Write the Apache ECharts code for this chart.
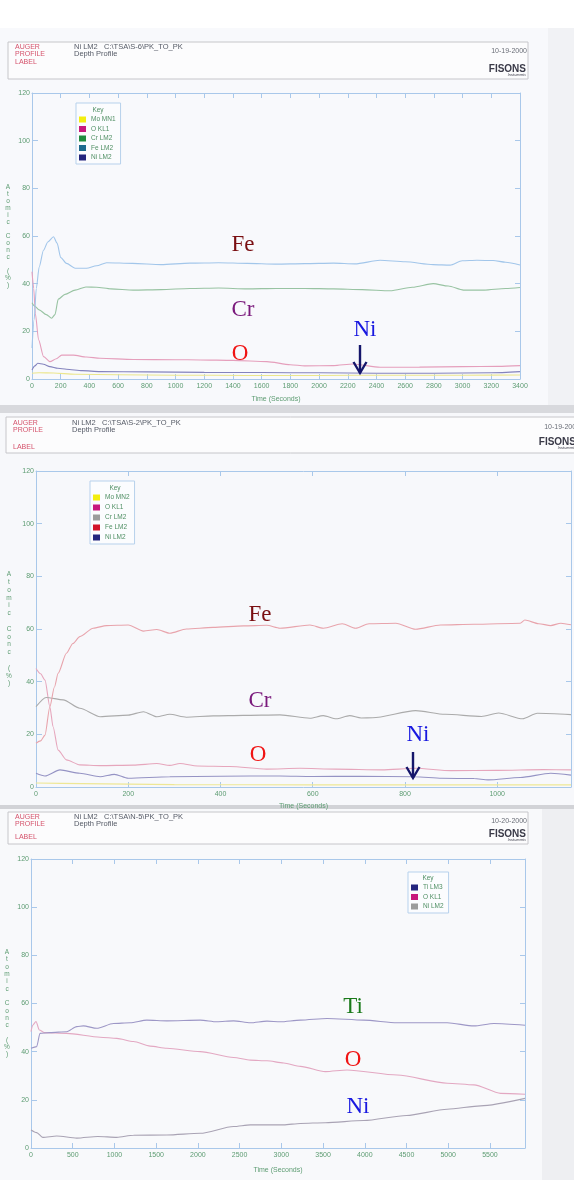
<!DOCTYPE html>
<html><head><meta charset="utf-8">
<script src="https://cdn.jsdelivr.net/npm/echarts@6/dist/echarts.min.js"></script>
<style>html,body{margin:0;padding:0;background:#fff}#c{width:574px;height:1180px}</style>
</head><body><div id="c"></div>
<script>
// ---------- DATA ----------
// Chart 1 : S-6  (time s, atomic conc %)
const c1XMax = 3400, c1XStep = 200;
const c1Fe = [[0,13],[15,25],[30,38],[50,47],[80,54],[110,57.5],[150,59.7],[175,57],[200,51],[240,48.5],[300,46.5],[380,46.5],[450,47.5],[520,48.8],[700,48.5],[900,48],[1100,48.6],[1300,48.8],[1500,48.5],[1700,48.2],[1900,48.4],[2100,48.6],[2250,48.3],[2425,49.8],[2600,49.2],[2795,48],[2913,47.8],[2997,49.6],[3100,49.8],[3213,49.7],[3300,49],[3400,47.8]];
const c1Cr = [[0,32],[20,30.5],[50,29],[100,27],[137,25.5],[160,27],[183,33.5],[230,35.5],[300,37.3],[376,38.6],[450,38.5],[550,37.8],[706,37.3],[900,37.5],[1100,38],[1300,38.2],[1500,37.8],[1700,38],[1900,38],[2100,37.8],[2300,37.5],[2495,37],[2650,38.5],[2795,40],[2900,39],[3006,37.3],[3150,37.3],[3300,38],[3400,38.4]];
const c1O  = [[0,45],[12,38],[23,27.6],[46,16.4],[81,9.4],[125,7.3],[170,8.5],[207,10],[288,10],[380,9.2],[474,8.7],[706,8.2],[1000,8.1],[1171,8],[1400,7.8],[1636,7.3],[1800,6],[1900,5.5],[2100,5.6],[2237,6.3],[2425,4.9],[2700,5],[3000,5.2],[3250,5.3],[3400,5.6]];
const c1Ni = [[0,3.8],[20,5.5],[40,6.6],[80,6.2],[125,5.2],[180,4.5],[240,4.1],[350,3.5],[474,3.1],[800,3],[1200,2.8],[1600,2.7],[2000,2.6],[2400,2.4],[2800,2.4],[3200,2.6],[3400,3.1]];
const c1Mo = [[0,2.4],[50,2.6],[150,2.5],[300,2],[600,1.8],[1000,1.6],[1500,1.5],[2000,1.5],[2500,1.6],[3000,1.6],[3400,1.7]];

// Chart 2 : S-2
const c2XMax = 1160, c2XStep = 200;
const c2Fe = [[0,16.6],[10,17.5],[19.5,19.7],[30,30.5],[40,38],[48,43.2],[66,50.8],[80,54.5],[95,57.1],[124,60.3],[153,61.3],[200,61.5],[233,59.2],[262,59.8],[290,58.4],[326,60],[384,60.6],[450,61.2],[500,61.4],[529,60.3],[594,61.5],[623,60.3],[664,62],[693,60.3],[722,62],[780,62.2],[823,59.9],[877,61.5],[950,61.8],[1050,62.2],[1060,63.4],[1090,62],[1116,61.3],[1138,62.2],[1160,61.6]];
const c2O  = [[0,45],[10,43],[19.5,40.6],[30,30.5],[37,22.9],[48,14],[66,10.3],[95,8.4],[139,8.1],[211,8.3],[262,8.9],[290,8.2],[312,8.9],[350,8],[420,7.8],[500,6.8],[572,7.1],[650,6.8],[750,6.5],[822,7.1],[900,6.2],[1000,6.3],[1100,6.6],[1160,6.5]];
const c2Cr = [[0,30.5],[22,34],[59,33.1],[95,29.9],[139,26.7],[200,27.3],[233,28.6],[262,26.7],[290,27.6],[326,26.5],[384,27],[450,27.2],[529,27.4],[594,26.1],[623,27.1],[651,25.9],[680,27.1],[705,26.2],[730,26.3],[823,29],[887,27.6],[966,26.8],[1003,28.1],[1055,25.9],[1087,28],[1160,27.5]];
const c2Ni = [[0,5.2],[19.5,4.2],[52,6.5],[95,5.2],[139,3.9],[170,4.8],[200,3.3],[290,3.9],[400,4.1],[529,4.2],[600,4],[700,4.1],[822,3.9],[880,3.3],[950,3.2],[980,2.7],[1050,3.6],[1116,5.2],[1160,4.5]];
const c2Mo = [[0,1.5],[100,1.3],[300,0.9],[600,0.8],[900,0.8],[1160,0.8]];

// Chart 3 : N-5
const c3XMax = 5920, c3XStep = 500;
const c3Ti = [[0,41.4],[68,42.1],[108,47.6],[228,47.9],[428,48.3],[548,50.4],[628,50.7],[788,49.7],[988,51.7],[1188,52],[1388,53.1],[1628,52.8],[2028,53.1],[2228,52.4],[2428,52.8],[2628,52],[2828,52.7],[2988,52.4],[3228,53.1],[3548,53.8],[3988,53.1],[4388,52],[4988,52],[5308,50.7],[5548,51.7],[5920,51]];
const c3O  = [[0,48.3],[20,51],[60,52.5],[100,49],[160,47.9],[428,47.6],[828,46],[1028,45.5],[1228,44.2],[1428,42.3],[1628,41.4],[2028,40],[2428,37.6],[2628,36.5],[2828,36.2],[3028,35.3],[3228,33.9],[3528,31.7],[3788,32.4],[4388,30.3],[4988,26.9],[5308,26.2],[5628,22.7],[5920,22.3]];
const c3Ni = [[0,7.5],[68,6.4],[140,4.4],[308,5],[548,4.1],[800,4.8],[1028,4.4],[1228,5.3],[1628,5.4],[2028,6.1],[2428,8.9],[2628,9.6],[3028,9.6],[3228,10.2],[3528,10.5],[3988,11.4],[4500,13.5],[4988,16.1],[5388,17.5],[5920,20.6]];

const yMax = 120, yStep = 20;
const keys1 = ['Mo MN1','O KL1','Cr LM2','Fe LM2','Ni LM2'];
const keys2 = ['Mo MN2','O KL1','Cr LM2','Fe LM2','Ni LM2'];
const keys3 = ['Ti LM3','O KL1','Ni LM2'];
const yName = 'Atomic Conc (%)';
const xName = 'Time (Seconds)';

// ---------- STYLE ----------
const AX = '#a9c8ea', LBL = '#5d9c72', SANS = 'Liberation Sans', SERIF = 'Liberation Serif';
const grids = [
  {left:32, top:93, width:488, height:286},
  {left:36, top:471, width:535, height:316},
  {left:31, top:859, width:494, height:289}
];
const xCfg = [[c1XMax,c1XStep,true,17],[c2XMax,c2XStep,false,16],[c3XMax,c3XStep,false,19]];
const yCfg = [[24,7],[27,7.8],[24,7.3]];
const plain = v => String(v);

const xAxis = [], yAxis = [];
xCfg.forEach(([max,step,showMax,gap],g)=>{
  xAxis.push({type:'value',gridIndex:g,min:0,max:max,interval:step,position:'bottom',
    name:xName,nameLocation:'middle',nameGap:gap,nameTextStyle:{color:LBL,fontSize:7,fontFamily:SANS},
    axisLine:{show:true,onZero:false,lineStyle:{color:AX,width:1}},
    axisTick:{show:true,inside:true,length:5,lineStyle:{color:AX}},
    axisLabel:{color:LBL,fontSize:7,margin:4,fontFamily:SANS,showMaxLabel:showMax,formatter:plain},
    splitLine:{show:false}});
  xAxis.push({type:'value',gridIndex:g,min:0,max:max,interval:step,position:'top',
    axisLine:{show:true,onZero:false,lineStyle:{color:AX,width:1}},
    axisTick:{show:true,inside:true,length:5,lineStyle:{color:AX}},
    axisLabel:{show:false},splitLine:{show:false}});
});
yCfg.forEach(([gap,lh],g)=>{
  yAxis.push({type:'value',gridIndex:g,min:0,max:yMax,interval:yStep,position:'left',
    name:yName.split('').join('\n'),nameLocation:'middle',nameRotate:0,nameGap:gap,
    nameTextStyle:{color:LBL,fontSize:6.5,lineHeight:lh,fontFamily:SANS,align:'center'},
    axisLine:{show:true,onZero:false,lineStyle:{color:AX,width:1}},
    axisTick:{show:true,inside:true,length:6,lineStyle:{color:AX}},
    axisLabel:{color:LBL,fontSize:7,margin:2,fontFamily:SANS,formatter:plain},
    splitLine:{show:false}});
  yAxis.push({type:'value',gridIndex:g,min:0,max:yMax,interval:yStep,position:'right',
    axisLine:{show:true,onZero:false,lineStyle:{color:AX,width:1}},
    axisTick:{show:true,inside:true,length:5,lineStyle:{color:AX}},
    axisLabel:{show:false},splitLine:{show:false}});
});

function line(name,data,color,g){
  return {type:'line',name:name,data:data,xAxisIndex:g*2,yAxisIndex:g*2,symbol:'none',
    smooth:0.25,smoothMonotone:'x',silent:true,
    lineStyle:{color:color,width:1.1},itemStyle:{color:color}};
}
const series = [
  line('1|Mo MN1',c1Mo,'#ebe68c',0),
  line('1|Ni LM2',c1Ni,'#8483bd',0),
  line('1|O KL1',c1O,'#e59fbc',0),
  line('1|Cr LM2',c1Cr,'#98c3a2',0),
  line('1|Fe LM2',c1Fe,'#a2c6ea',0),
  line('2|Mo MN2',c2Mo,'#eee795',1),
  line('2|Ni LM2',c2Ni,'#9593c4',1),
  line('2|O KL1',c2O,'#e6a6bc',1),
  line('2|Cr LM2',c2Cr,'#ababab',1),
  line('2|Fe LM2',c2Fe,'#e8a4ac',1),
  line('3|Ni LM2',c3Ni,'#a9a3b4',2),
  line('3|O KL1',c3O,'#e3a8c2',2),
  line('3|Ti LM3',c3Ti,'#9d97c6',2)
];

const keyCol = {'Mo MN1':'#f3ee10','Mo MN2':'#f3ee10','O KL1':'#c8187c','Ni LM2':'#23257e','Ti LM3':'#23257e'};
const keyCol1 = Object.assign({},keyCol,{'Cr LM2':'#1f8c3f','Fe LM2':'#1c6a8e'});
const keyCol2 = Object.assign({},keyCol,{'Cr LM2':'#9c9c9c','Fe LM2':'#d2142a'});
const keyCol3 = Object.assign({},keyCol,{'Ni LM2':'#9c9c9c'});
function legend(pfx,keys,cols,left,top,gap,padTop){
  return {left:left,top:top,orient:'vertical',selectedMode:false,icon:'rect',
    itemWidth:7,itemHeight:6,itemGap:gap,padding:[padTop,5,3,3],
    borderColor:'#b7d1ec',borderWidth:1,backgroundColor:'#fbfcfe',
    textStyle:{color:'#4f8f63',fontSize:6.5,fontFamily:SANS},
    formatter:n=>n.split('|')[1],
    data:keys.map(k=>({name:pfx+'|'+k,itemStyle:{color:cols[k]}}))};
}
const legends = [
  legend('1',keys1,keyCol1,76,103,2.5,13),
  legend('2',keys2,keyCol2,90,481,3,13),
  legend('3',keys3,keyCol3,408,872,2.5,12)
];

// ---------- GRAPHICS (page, headers, annotations) ----------
const G = [];
function rect(x,y,w,h,fill,stroke,z){G.push({type:'rect',z:z===undefined?-10:z,silent:true,shape:{x,y,width:w,height:h},style:{fill:fill||'none',stroke:stroke||null,lineWidth:1}});}
function txt(x,y,t,font,fill,align,z){G.push({type:'text',x,y,z:z||10,silent:true,style:{text:t,font:font,fill:fill,textAlign:align||'left',textVerticalAlign:'middle'}});}
// pages
rect(0,28,574,378,'#f8f9fc');
rect(548,28,26,378,'#f1f2f5');
rect(0,405,574,8,'#d8d9dd');
rect(0,413,574,393,'#f7f8fb');
rect(0,805,574,4,'#d2d3d7');
rect(0,809,574,371,'#f8f9fb');
rect(542,809,32,371,'#eeeff2');
function header(x0,y0,w,h,path,date,yA,yL,dateX,logoX,logoY){
  const yP = yA+7;
  rect(x0,y0,w,h,'#fcfcfd','#c6c6ca',-5);
  const f='7px '+SANS;
  txt(x0+7,yA,'AUGER',f,'#d5536c');
  txt(x0+7,yP,'PROFILE',f,'#d5536c');
  txt(x0+7,yL,'LABEL',f,'#d5536c');
  txt(x0+66,yA,path,'7.5px '+SANS,'#555a66');
  txt(x0+66,yP,'Depth Profile','7.5px '+SANS,'#555a66');
  txt(dateX,yA+4,date,f,'#6a6e78','right');
  txt(logoX,logoY,'FISONS','bold 10px '+SANS,'#3a3a48','right');
  txt(logoX,logoY+6,'Instruments','italic 3.5px '+SANS,'#3a3a48','right');
}
header(8,42,520,37,'Ni LM2   C:\\TSA\\S-6\\PK_TO_PK','10-19-2000',47,62,527,526,69);
header(6,417,580,36,'Ni LM2   C:\\TSA\\S-2\\PK_TO_PK','10-19-2000',423,447,580,576,442);
header(8,812,520,32,'Ni LM2   C:\\TSA\\N-5\\PK_TO_PK','10-20-2000',817,837,527,526,834);
// legend titles
txt(98,110,'Key','6.5px '+SANS,'#4f8f63','center',20);
txt(115,488,'Key','6.5px '+SANS,'#4f8f63','center',20);
txt(428,878,'Key','6.5px '+SANS,'#4f8f63','center',20);
// annotations
const AF = '23px '+SERIF;
txt(243,245,'Fe',AF,'#7a0f12','center',30);
txt(243,310,'Cr',AF,'#7a1a7c','center',30);
txt(240,354,'O',AF,'#f01414','center',30);
txt(365,330,'Ni',AF,'#1818e0','center',30);
txt(260,615,'Fe',AF,'#7a0f12','center',30);
txt(260,701,'Cr',AF,'#7a1a7c','center',30);
txt(258,755,'O',AF,'#f01414','center',30);
txt(418,735,'Ni',AF,'#1818e0','center',30);
txt(353,1007,'Ti',AF,'#1a7a1a','center',30);
txt(353,1060,'O',AF,'#f01414','center',30);
txt(358,1107,'Ni',AF,'#1818e0','center',30);
function arrow(x,y1,y2){
  G.push({type:'polyline',z:30,silent:true,shape:{points:[[x,y1],[x,y2]]},style:{stroke:'#15166b',lineWidth:2.4,fill:null}});
  G.push({type:'polyline',z:30,silent:true,shape:{points:[[x-6.5,y2-11],[x,y2],[x+6.5,y2-11]]},style:{stroke:'#15166b',lineWidth:2.4,fill:null,lineJoin:'miter'}});
}
arrow(360,345,373);
arrow(413,752,778);

const chart = echarts.init(document.getElementById('c'),null,{renderer:'canvas'});
chart.setOption({
  animation:false,
  backgroundColor:'#ffffff',
  grid:grids,
  xAxis:xAxis,
  yAxis:yAxis,
  legend:legends,
  series:series,
  graphic:{elements:G}
});
</script></body></html>
